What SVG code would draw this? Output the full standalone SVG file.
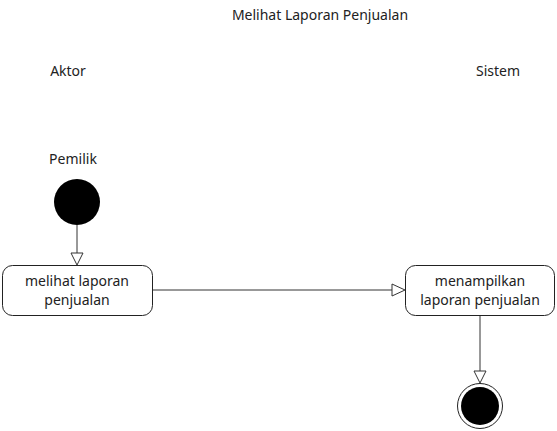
<svg xmlns="http://www.w3.org/2000/svg" width="557" height="431" viewBox="0 0 557 431">
<style>
text{font-family:"Noto Sans","Open Sans",sans-serif;font-size:14px;fill:#222;}
.box{fill:#fff;stroke:#222;stroke-width:1;}
.ln{stroke:#333;stroke-width:1;fill:none;}
.ah{fill:#fff;stroke:#333;stroke-width:1;}
</style>
<rect width="557" height="431" fill="#fff"/>
<text x="320" y="20" text-anchor="middle">Melihat Laporan Penjualan</text>
<text x="68" y="76" text-anchor="middle">Aktor</text>
<text x="498" y="76" text-anchor="middle">Sistem</text>
<text x="73" y="164" text-anchor="middle">Pemilik</text>
<g id="connectors">
<line class="ln" x1="77" y1="225" x2="77" y2="254"/>
<polygon class="ah" points="71,253 83,253 77,265"/>
<line class="ln" x1="153" y1="290" x2="393" y2="290"/>
<polygon class="ah" points="392,284 392,296 405,290"/>
<line class="ln" x1="480" y1="315" x2="480" y2="372"/>
<polygon class="ah" points="474,371 486,371 480,383"/>
</g>
<g id="start"><circle cx="77" cy="202" r="23" fill="#000"/></g>
<g id="n1"><rect class="box" x="2.5" y="265.5" width="150" height="50" rx="10"/>
<text x="77" y="286" text-anchor="middle">melihat laporan</text>
<text x="77" y="305" text-anchor="middle">penjualan</text></g>
<g id="n2"><rect class="box" x="405.5" y="265.5" width="149" height="50" rx="10"/>
<text x="480" y="286" text-anchor="middle">menampilkan</text>
<text x="480" y="305" text-anchor="middle">laporan penjualan</text></g>
<g id="end"><circle cx="480" cy="406" r="22.5" fill="#fff" stroke="#222" stroke-width="1"/>
<circle cx="480" cy="406" r="19" fill="#000"/></g>
</svg>
